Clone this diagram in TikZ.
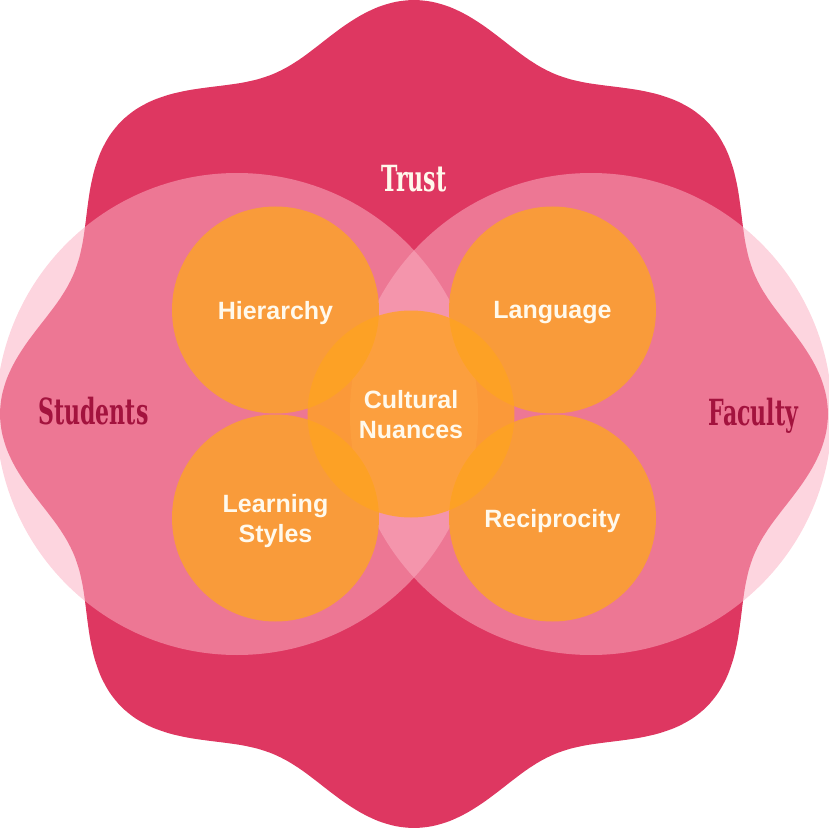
\documentclass[tikz,border=0pt]{standalone}
\usepackage{fontspec}
\setmainfont{Liberation Sans}
\newfontfamily\headserif[FakeStretch=0.68]{DejaVu Serif Condensed Bold}
\usepackage{xcolor}
\usetikzlibrary{shapes.geometric}
\definecolor{trust-red}{HTML}{DE3761}
\definecolor{venn-pink}{HTML}{FBB0C2}
\definecolor{topic-orange}{HTML}{F99B3A}
\definecolor{core-orange}{HTML}{FFA320}
\definecolor{label-red}{HTML}{A3133E}
\definecolor{cream}{HTML}{FFF9EC}

\begin{document}
\begin{tikzpicture}[
    x=1pt, y=1pt,
    bigcircle/.style={circle, fill=venn-pink, fill opacity=0.53, minimum size=482pt, inner sep=0pt},
    topic/.style={circle, fill=topic-orange, minimum size=207pt, inner sep=0pt, text depth=0pt, text=cream, align=center, font=\fontsize{25}{30}\selectfont\bfseries},
    core/.style={topic, fill=core-orange, fill opacity=0.78, text opacity=1},
    sidelabel/.style={anchor=base, text=label-red, font=\headserif\fontsize{36}{40}\selectfont},
    toplabel/.style={sidelabel, text=cream}
]
    \useasboundingbox (-414,-414) rectangle (414,414);

    % --- Background Shape ---
    \fill[trust-red] plot[smooth cycle, samples=144, domain=0:357.5, variable=\t] (\t:{391+23*cos(8*\t)});

    % --- Venn Circles ---
    \node (students_circle) [bigcircle] at (-177,0) {};
    \node (faculty_circle) [bigcircle] at (177,0) {};

    % --- Topic Circles ---
    \node (hierarchy) [topic] at (-138.5,104) {Hierarchy};
    \node (language) [topic] at (138.5,104) {Language};
    \node (learning) [topic] at (-138.5,-104) {Learning\\Styles};
    \node (reciprocity) [topic] at (138.5,-104) {Reciprocity};
    \node (nuances) [core] at (-3,0) {Cultural\\Nuances};

    % --- Labels ---
    \node (trust) [toplabel] at (0,222) {Trust};
    \node (students) [sidelabel] at (-320.5,-10) {Students};
    \node (faculty) [sidelabel] at (339.5,-11) {Faculty};

\end{tikzpicture}
\end{document}
